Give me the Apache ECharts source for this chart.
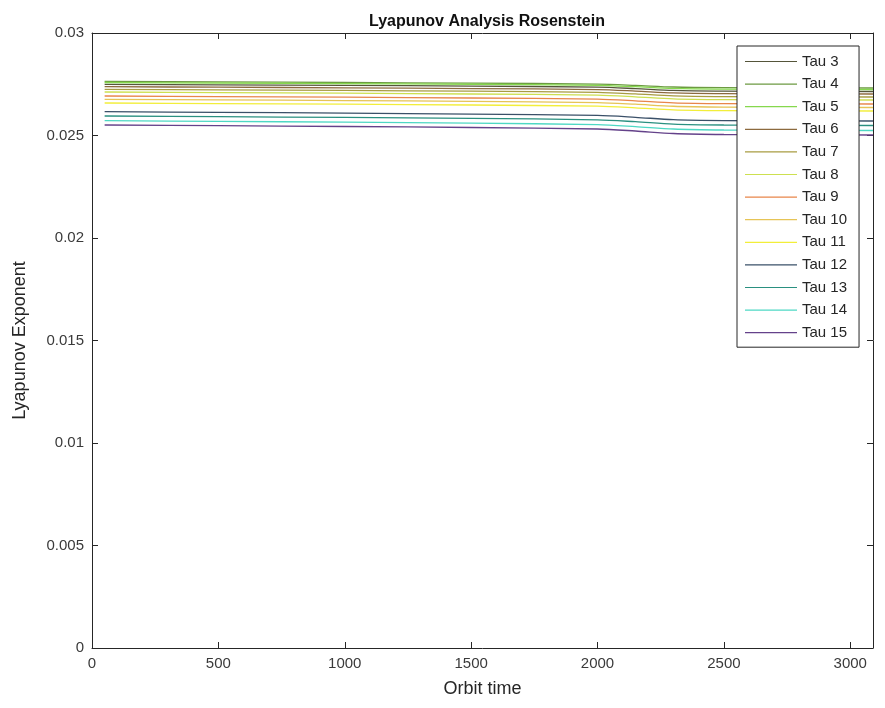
<!DOCTYPE html>
<html>
<head>
<meta charset="utf-8">
<title>Lyapunov Analysis Rosenstein</title>
<script src="https://cdn.jsdelivr.net/npm/echarts@6/dist/echarts.min.js"></script>
<style>
  html, body { margin: 0; padding: 0; background: #fff; }
  #chart { width: 885px; height: 708px; }
</style>
</head>
<body>
<div id="chart"></div>
<script>
// Orbit time sample points
const orbitTime = [50, 500, 1000, 1500, 2000, 2150, 2300, 2500, 2800, 3090];

// Lyapunov exponent estimates per embedding delay
const tau3  = [0.027498, 0.027473, 0.027445, 0.027410, 0.027357, 0.027287, 0.027199, 0.027164, 0.027153, 0.027146];
const tau4  = [0.027634, 0.027612, 0.027586, 0.027555, 0.027507, 0.027444, 0.027365, 0.027333, 0.027323, 0.027317];
const tau5  = [0.027585, 0.027561, 0.027534, 0.027500, 0.027449, 0.027380, 0.027295, 0.027261, 0.027251, 0.027244];
const tau6  = [0.027380, 0.027355, 0.027327, 0.027291, 0.027238, 0.027166, 0.027077, 0.027042, 0.027031, 0.027024];
const tau7  = [0.027254, 0.027228, 0.027198, 0.027160, 0.027104, 0.027028, 0.026934, 0.026897, 0.026886, 0.026878];
const tau8  = [0.027122, 0.027095, 0.027063, 0.027024, 0.026966, 0.026888, 0.026790, 0.026751, 0.026740, 0.026732];
const tau9  = [0.026927, 0.026900, 0.026868, 0.026829, 0.026771, 0.026693, 0.026595, 0.026556, 0.026545, 0.026537];
const tau10 = [0.026766, 0.026738, 0.026706, 0.026666, 0.026606, 0.026526, 0.026426, 0.026386, 0.026374, 0.026366];
const tau11 = [0.026585, 0.026558, 0.026526, 0.026487, 0.026429, 0.026351, 0.026253, 0.026214, 0.026203, 0.026195];
const tau12 = [0.026161, 0.026129, 0.026093, 0.026047, 0.025979, 0.025889, 0.025775, 0.025730, 0.025716, 0.025707];
const tau13 = [0.025951, 0.025919, 0.025882, 0.025835, 0.025766, 0.025673, 0.025557, 0.025511, 0.025497, 0.025488];
const tau14 = [0.025722, 0.025689, 0.025650, 0.025602, 0.025531, 0.025435, 0.025316, 0.025268, 0.025254, 0.025244];
const tau15 = [0.025512, 0.025478, 0.025439, 0.025390, 0.025317, 0.025219, 0.025097, 0.025048, 0.025034, 0.025024];

const seriesNames = ['Tau 3', 'Tau 4', 'Tau 5', 'Tau 6', 'Tau 7', 'Tau 8', 'Tau 9',
                     'Tau 10', 'Tau 11', 'Tau 12', 'Tau 13', 'Tau 14', 'Tau 15'];
const seriesValues = [tau3, tau4, tau5, tau6, tau7, tau8, tau9, tau10, tau11, tau12, tau13, tau14, tau15];
const seriesColors = ['#55553a', '#6c9a42', '#86d84e', '#8c6a3e', '#a89c42', '#cde050',
                      '#e8864a', '#e6c456', '#f2ee3a', '#3a5068', '#2a9080', '#4ed8c4', '#64428a'];

const xTicks = { min: 0, max: 3090, interval: 500 };
const yTicks = { min: 0, max: 0.03, interval: 0.005 };

const axisColor = '#262626';
const labelColor = '#3a3a3a';
const fontFamily = 'Liberation Sans, Arial, sans-serif';

const chart = echarts.init(document.getElementById('chart'), null, { renderer: 'canvas' });

const boxAxis = (extra) => Object.assign({
  type: 'value',
  axisLine: { show: true, onZero: false, lineStyle: { color: axisColor, width: 1 } },
  axisTick: { show: true, inside: true, length: 6, lineStyle: { color: axisColor } },
  splitLine: { show: false }
}, extra);

chart.setOption({
  animation: false,
  backgroundColor: '#fff',
  title: {
    text: 'Lyapunov Analysis Rosenstein',
    left: 482, top: 9, textAlign: 'center',
    textStyle: { fontFamily, fontSize: 16, fontWeight: 'bold', color: '#111' }
  },
  grid: { left: 92, right: 12, top: 33, bottom: 60, containLabel: false },
  legend: {
    orient: 'vertical',
    left: 737, top: 46,
    padding: [8, 12, 7, 8],
    itemGap: 7.6,
    itemWidth: 52, itemHeight: 1.2,
    icon: 'rect',
    borderColor: '#262626', borderWidth: 1,
    backgroundColor: '#fff',
    textStyle: { fontFamily, fontSize: 15, color: '#262626', lineHeight: 15 },
    data: seriesNames
  },
  xAxis: [
    boxAxis({
      position: 'bottom',
      min: xTicks.min, max: xTicks.max, interval: xTicks.interval,
      name: 'Orbit time', nameLocation: 'middle', nameGap: 32,
      nameTextStyle: { fontFamily, fontSize: 18, color: '#262626' },
      axisLabel: { fontFamily, fontSize: 15, color: labelColor, margin: 8, showMaxLabel: false,
                   formatter: (v) => String(v) }
    }),
    boxAxis({
      position: 'top',
      min: xTicks.min, max: xTicks.max, interval: xTicks.interval,
      axisLabel: { show: false }
    })
  ],
  yAxis: [
    boxAxis({
      position: 'left',
      min: yTicks.min, max: yTicks.max, interval: yTicks.interval,
      name: 'Lyapunov Exponent', nameLocation: 'middle', nameGap: 63,
      nameTextStyle: { fontFamily, fontSize: 18, color: '#262626' },
      axisLabel: { fontFamily, fontSize: 15, color: labelColor, margin: 8,
                   formatter: (v) => String(+v.toFixed(3)) }
    }),
    boxAxis({
      position: 'right',
      min: yTicks.min, max: yTicks.max, interval: yTicks.interval,
      axisLabel: { show: false }
    })
  ],
  series: seriesNames.map((name, i) => ({
    name,
    type: 'line',
    xAxisIndex: 0, yAxisIndex: 0,
    data: orbitTime.map((t, j) => [t, seriesValues[i][j]]),
    symbol: 'none',
    smooth: 0.3,
    color: seriesColors[i],
    lineStyle: { color: seriesColors[i], width: 1.3 },
    z: 2
  }))
});
</script>
</body>
</html>
